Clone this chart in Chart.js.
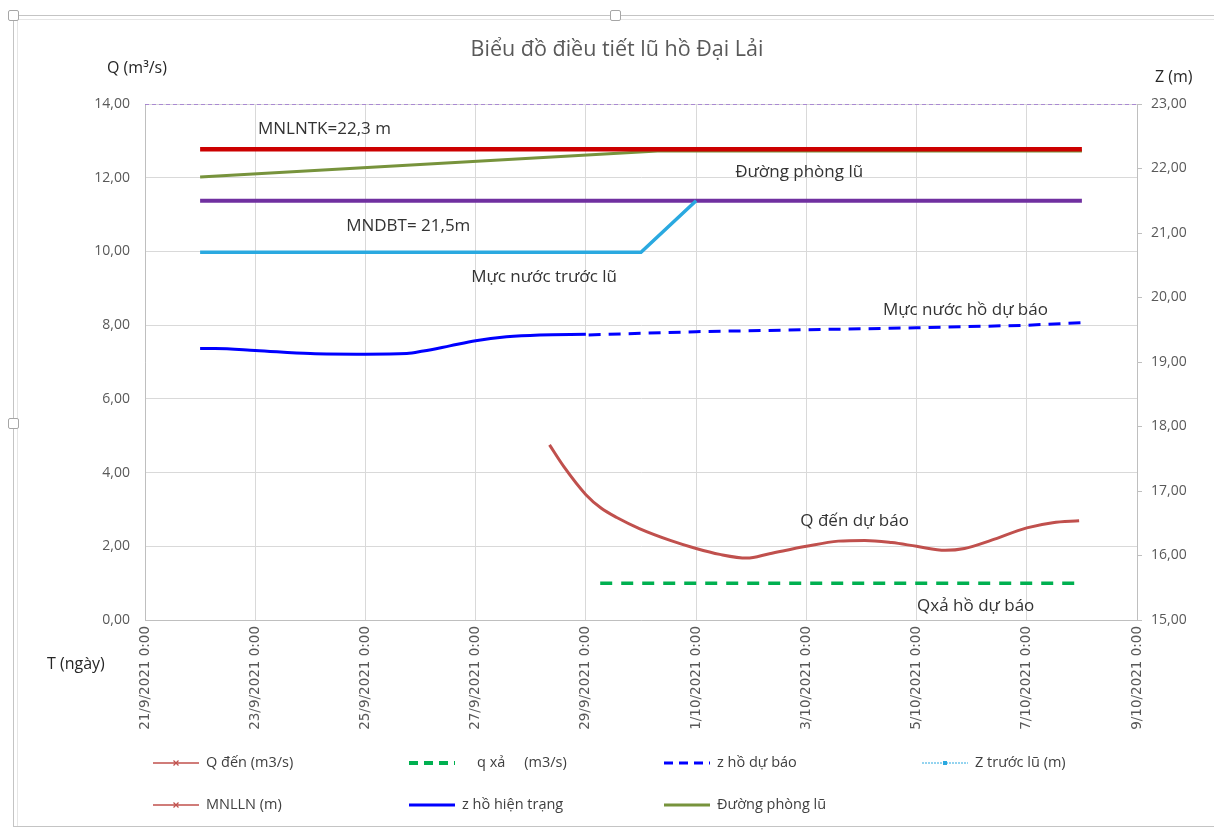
<!DOCTYPE html>
<html>
<head>
<meta charset="utf-8">
<title>Biểu đồ điều tiết lũ hồ Đại Lải</title>
<script src="https://cdn.jsdelivr.net/npm/chart.js@4.4.0/dist/chart.umd.min.js"></script>
<style>
  body { margin: 0; background: #fff; }
  #wrap { position: relative; width: 1214px; height: 829px; overflow: hidden; }
  #myChart { position: absolute; left: 0; top: 0; }
  .frame { position: absolute; left: 13px; top: 15px; width: 1210px; height: 810px;
           border-left: 1px solid #c4c4c4; border-top: 1px solid #c4c4c4; border-bottom: 1px solid #c4c4c4; }
  .frame2 { position: absolute; left: 17px; top: 19px; width: 1210px; height: 806px;
            border-left: 1px solid #e6e6e6; border-top: 1px solid #e6e6e6; }
  .handle { position: absolute; width: 9px; height: 9px; background: #fff;
            border: 1px solid #a6a6a6; border-radius: 2px; }
</style>
</head>
<body>
<div id="wrap">
  <div class="frame"></div>
  <div class="frame2"></div>
  <canvas id="myChart" width="1214" height="829"></canvas>
  <div class="handle" style="left:8px;top:10px"></div>
  <div class="handle" style="left:610px;top:10px"></div>
  <div class="handle" style="left:8px;top:418px"></div>
</div>
<script>
// x values are days counted from 21/9/2021 0:00
const tickLabels = [
  "21/9/2021 0:00", "23/9/2021 0:00", "25/9/2021 0:00", "27/9/2021 0:00", "29/9/2021 0:00",
  "1/10/2021 0:00", "3/10/2021 0:00", "5/10/2021 0:00", "7/10/2021 0:00", "9/10/2021 0:00"
];

// Q đến (m3/s) - left axis
const qDenDays = [7.34, 7.6, 8.0, 8.28, 8.56, 8.97, 9.53, 10.0, 10.43, 10.92, 11.33, 12.0,
  12.58, 13.06, 13.55, 14.0, 14.52, 14.87, 15.35, 16.0, 16.47, 16.95];
const qDen = [4.75, 4.16, 3.4, 3.03, 2.78, 2.48, 2.16, 1.94, 1.78, 1.68, 1.8, 2.0,
  2.14, 2.16, 2.1, 2.0, 1.89, 1.94, 2.16, 2.5, 2.64, 2.69];

// q xả (m3/s) - left axis
const qXaDays = [8.26, 17.0];
const qXa = [1.0, 1.0];

// z hồ hiện trạng (m) - right axis
const zHienTrangDays = [1.0, 1.27, 2.0, 3.0, 4.0, 4.75, 5.05, 5.53, 6.0, 6.56, 7.16, 8.0];
const zHienTrang = [19.21, 19.21, 19.18, 19.13, 19.12, 19.13, 19.17, 19.25, 19.33, 19.39, 19.42, 19.43];

// z hồ dự báo (m)
const zDuBaoDays = [8.05, 10, 12, 14, 16, 17];
const zDuBao = [19.42, 19.47, 19.5, 19.53, 19.57, 19.61];

// Z trước lũ (m)
const zTruocLuDays = [1, 9, 10];
const zTruocLu = [20.7, 20.7, 21.5];

// MNLLN (m)
const mnllnDays = [1, 17];
const mnlln = [22.3, 22.3];

// Đường phòng lũ (m)
const phongLuDays = [1, 9.3, 17];
const phongLu = [21.87, 22.27, 22.27];

// MNDBT (m)
const mndbtDays = [1, 17];
const mndbt = [21.5, 21.5];

// top reference line (m)
const topLineDays = [0, 18];
const topLine = [23, 23];

// text notes on the plot (day, Q-axis value)
const noteTexts = ["MNLNTK=22,3 m", "Đường phòng lũ", "MNDBT= 21,5m", "Mực nước trước lũ",
  "Mực nước hồ dự báo", "Q đến dự báo", "Qxả hồ dự báo"];
const noteDays = [2.05, 10.71, 3.65, 5.92, 13.39, 11.89, 14.01];
const noteQ = [13.32, 12.15, 10.69, 9.31, 8.41, 2.69, 0.38];

const toPoints = (xs, ys) => xs.map((x, i) => ({ x: x, y: ys[i] }));
const fmt = v => v.toFixed(2).replace(".", ",");

window.onload = () => {
  const ctx = document.querySelector("#myChart").getContext("2d");

  const datasets = [
    { label: "Q đến (m3/s)", data: toPoints(qDenDays, qDen), yAxisID: "y",
      borderColor: "#c0504d", borderWidth: 3, cubicInterpolationMode: "monotone",
      legendWidth: 1.5, legendMarker: "plus" },
    { label: "    q xả     (m3/s)", data: toPoints(qXaDays, qXa), yAxisID: "y",
      borderColor: "#00b050", borderWidth: 3.5, borderDash: [12, 9], legendWidth: 4 },
    { label: "z hồ dự báo", data: toPoints(zDuBaoDays, zDuBao), yAxisID: "y2",
      borderColor: "#0000ff", borderWidth: 3, borderDash: [12, 8], legendWidth: 3 },
    { label: "Z trước lũ (m)", data: toPoints(zTruocLuDays, zTruocLu), yAxisID: "y2",
      borderColor: "#2aa9e0", borderWidth: 3.5, legendWidth: 1, legendDash: [2, 1], legendMarker: "dot" },
    { label: "MNLLN (m)", data: toPoints(mnllnDays, mnlln), yAxisID: "y2",
      borderColor: "#cc0000", borderWidth: 4.5, legendColor: "#c0504d", legendWidth: 1.5, legendMarker: "x" },
    { label: "z hồ hiện trạng", data: toPoints(zHienTrangDays, zHienTrang), yAxisID: "y2",
      borderColor: "#0000ff", borderWidth: 3, cubicInterpolationMode: "monotone", legendWidth: 3 },
    { label: "Đường phòng lũ", data: toPoints(phongLuDays, phongLu), yAxisID: "y2",
      borderColor: "#77933c", borderWidth: 3, legendWidth: 3 },
    { label: "MNDBT", data: toPoints(mndbtDays, mndbt), yAxisID: "y2",
      borderColor: "#7030a0", borderWidth: 4, hideLegend: true },
    { label: "top", data: toPoints(topLineDays, topLine), yAxisID: "y2",
      borderColor: "#9b6fd0", borderWidth: 1.5, borderDash: [4, 3], hideLegend: true }
  ];
  // draw order: later items on top, so put the thick reference lines under the curves
  datasets.forEach((d, i) => { d.order = d.hideLegend ? 20 : 10 - i; });
  datasets[6].order = 15; // Đường phòng lũ under MNLLN
  datasets[4].order = 14;

  // Texts, titles and legend
  const textPlugin = {
    id: "texts",
    afterDraw(chart) {
      const c = chart.ctx;
      const xs = chart.scales.x;
      const ys = chart.scales.y;
      c.save();
      c.textBaseline = "middle";

      c.fillStyle = "#595959";
      c.font = "21.5px 'Open Sans'";
      c.textAlign = "center";
      c.fillText("Biểu đồ điều tiết lũ hồ Đại Lải", 617, 50);

      c.fillStyle = "#262626";
      c.font = "16px 'Open Sans'";
      c.textAlign = "left";
      c.fillText("Q (m³/s)", 107, 68);
      c.fillText("Z (m)", 1155, 77);
      c.fillText("T (ngày)", 47, 664);

      c.font = "17px 'Open Sans'";
      c.fillStyle = "#333333";
      noteTexts.forEach((t, i) => {
        c.fillText(t, xs.getPixelForValue(noteDays[i]), ys.getPixelForValue(noteQ[i]));
      });

      // legend: 4 columns, 2 rows
      const cols = [153, 409, 664, 922];
      const rows = [763, 805];
      const items = chart.data.datasets.filter(d => !d.hideLegend);
      c.font = "14.5px 'Open Sans'";
      items.forEach((d, i) => {
        const x0 = cols[i % 4];
        const y0 = rows[Math.floor(i / 4)];
        c.strokeStyle = d.legendColor || d.borderColor;
        c.lineWidth = d.legendWidth || d.borderWidth;
        c.setLineDash(d.legendDash || (d.borderDash ? [9, 6] : []));
        c.beginPath();
        c.moveTo(x0, y0);
        c.lineTo(x0 + 46, y0);
        c.stroke();
        c.setLineDash([]);
        const mx = x0 + 23;
        if (d.legendMarker === "plus" || d.legendMarker === "x") {
          c.lineWidth = 1.2;
          c.beginPath();
          c.moveTo(mx - 2.5, y0 - 2.5); c.lineTo(mx + 2.5, y0 + 2.5);
          c.moveTo(mx + 2.5, y0 - 2.5); c.lineTo(mx - 2.5, y0 + 2.5);
          c.stroke();
        } else if (d.legendMarker === "dot") {
          c.fillStyle = d.borderColor;
          c.fillRect(mx - 2, y0 - 2, 4, 4);
        }
        c.fillStyle = "#404040";
        c.fillText(d.label, x0 + 53, y0);
      });
      c.restore();
    }
  };

  const myChart = new Chart(ctx, {
    type: "line",
    data: { datasets: datasets },
    options: {
      responsive: false,
      animation: false,
      layout: { padding: { top: 104, left: 0, right: 0, bottom: 0 } },
      elements: { point: { radius: 0 }, line: { tension: 0 } },
      plugins: { legend: { display: false }, tooltip: { enabled: false } },
      scales: {
        x: {
          type: "linear",
          min: 0,
          max: 18,
          afterFit: s => { s.height = 209; },
          grid: { color: "#d9d9d9", drawTicks: false },
          border: { color: "#bfbfbf" },
          ticks: {
            stepSize: 2,
            autoSkip: false,
            minRotation: 90,
            maxRotation: 90,
            padding: 6,
            color: "#595959",
            font: { family: "'DejaVu Sans'", size: 13.5 },
            callback: v => tickLabels[Math.round(v / 2)]
          }
        },
        y: {
          position: "left",
          min: 0,
          max: 14,
          afterFit: s => { s.width = 145; },
          grid: { color: "#d9d9d9", drawTicks: false },
          border: { color: "#bfbfbf" },
          ticks: {
            stepSize: 2,
            padding: 15,
            color: "#595959",
            font: { family: "'Open Sans'", size: 14 },
            callback: v => fmt(v)
          }
        },
        y2: {
          position: "right",
          min: 15,
          max: 23,
          afterFit: s => { s.width = 77; },
          grid: { drawOnChartArea: false, color: "#bfbfbf", tickLength: 5 },
          border: { color: "#bfbfbf" },
          ticks: {
            stepSize: 1,
            padding: 9,
            color: "#595959",
            font: { family: "'Open Sans'", size: 14 },
            callback: v => fmt(v)
          }
        }
      }
    },
    plugins: [textPlugin]
  });
};
</script>
</body>
</html>
